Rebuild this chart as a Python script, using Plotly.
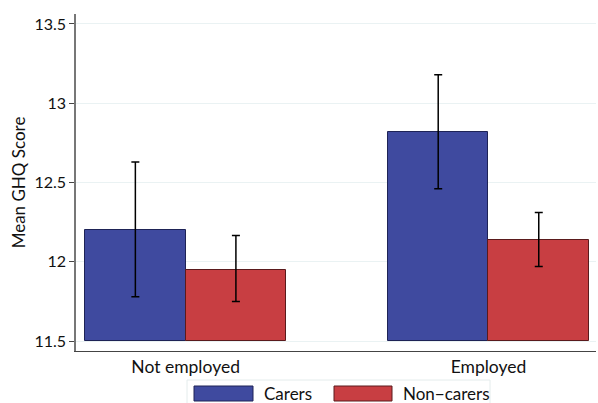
import plotly.graph_objects as go

groups = ["Not employed", "Employed"]
series = ["Carers", "Non\u2212carers"]
carers = [12.20, 12.82]
carers_hi = [12.63, 13.18]
carers_lo = [11.78, 12.46]
noncarers = [11.95, 12.135]
noncarers_hi = [12.165, 12.31]
noncarers_lo = [11.75, 11.97]
yticks = [11.5, 12, 12.5, 13, 13.5]
yticklabels = ["11.5", "12", "12.5", "13", "13.5"]

colors = ["#3F4A9F", "#C83E42"]
edges = ["#1E2356", "#5A1A1C"]
font = "Lato"

x = list(range(len(groups)))
bw = 0.332

fig = go.Figure()
for i, (vals, hi, lo) in enumerate([(carers, carers_hi, carers_lo), (noncarers, noncarers_hi, noncarers_lo)]):
    off = -bw / 2 if i == 0 else bw / 2
    fig.add_trace(go.Bar(
        x=[xi + off for xi in x], y=[v - 11.5 for v in vals], base=11.5,
        width=bw, name=series[i],
        marker=dict(color=colors[i], line=dict(color=edges[i], width=1)),
        error_y=dict(type="data", symmetric=False,
                     array=[h - v for h, v in zip(hi, vals)],
                     arrayminus=[v - l for v, l in zip(vals, lo)],
                     color="black", thickness=1.5, width=4),
        showlegend=False,
    ))

fig.update_layout(
    width=598, height=403,
    margin=dict(l=76, r=2, t=14, b=52),
    plot_bgcolor="white", paper_bgcolor="white",
    font=dict(family=font, size=17, color="#111"),
    bargap=0,
    xaxis=dict(range=[-0.362, 1.355], tickvals=x, ticktext=groups,
               showgrid=False, zeroline=False, showline=True,
               linecolor="#444", linewidth=1.2, ticks="",
               tickfont=dict(size=17.5, family=font)),
    yaxis=dict(range=[11.437, 13.563], tickvals=yticks, ticktext=yticklabels,
               showgrid=True, gridcolor="#EAF2F3", gridwidth=1,
               zeroline=False, showline=True, linecolor="#777", linewidth=1.5,
               ticks="outside", ticklen=5, tickcolor="#444",
               tickfont=dict(size=16, family=font),
               title=dict(text="Mean GHQ Score", font=dict(size=17, family=font), standoff=4)),
)

# legend drawn in paper coordinates
W, H = 598 - 78, 403 - 66
def px(xp):
    return (xp - 76) / W
def py(yp):
    return (351 - yp) / H

fig.add_shape(type="rect", xref="paper", yref="paper",
              x0=px(187), x1=px(490), y0=py(404), y1=py(380),
              line=dict(color="#E4ECEC", width=1), fillcolor="white")
legend_items = [(194, 253, 262), (334, 392, 401)]
for i, (a, b, t) in enumerate(legend_items):
    fig.add_shape(type="rect", xref="paper", yref="paper",
                  x0=px(a), x1=px(b), y0=py(401), y1=py(386),
                  line=dict(color=edges[i], width=1), fillcolor=colors[i])
    fig.add_annotation(xref="paper", yref="paper", x=px(t), y=py(393.5),
                       text=series[i], showarrow=False, xanchor="left", yanchor="middle",
                       font=dict(size=17, family=font))

fig.write_html("out.html", config={"displayModeBar": False},
               post_script="document.body.style.margin='0px';document.body.style.overflow='hidden';")
